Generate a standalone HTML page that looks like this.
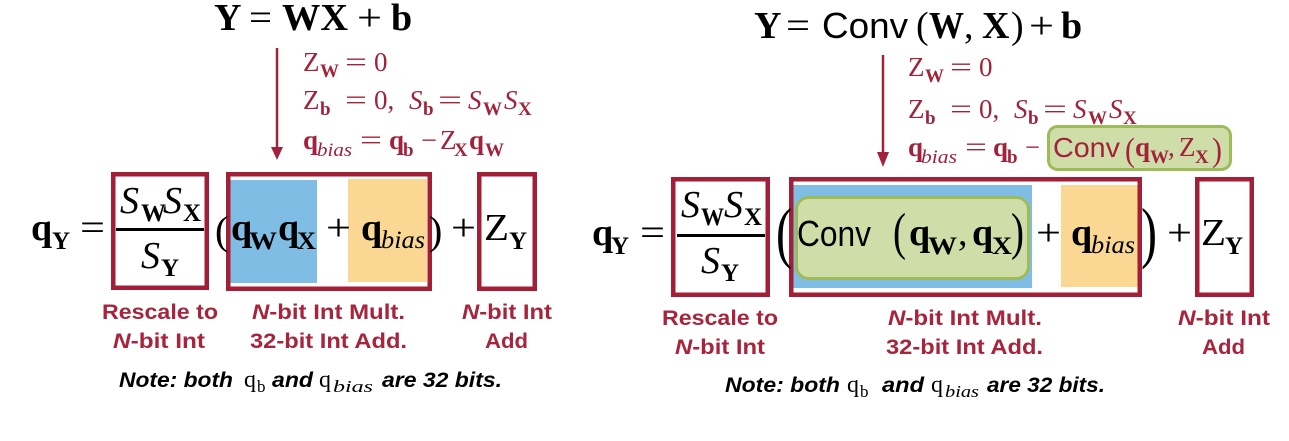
<!DOCTYPE html>
<html><head><meta charset="utf-8"><style>
html,body{margin:0;padding:0;background:#fff;}
svg{display:block}
.s{font-family:"Liberation Serif",serif}
.ss{font-family:"Liberation Sans",sans-serif}
.b{font-weight:bold}
.i{font-style:italic}
.lab{font-family:"Liberation Sans",sans-serif;font-weight:bold;font-size:21px;fill:#a7243c}
.note{font-family:"Liberation Sans",sans-serif;font-weight:bold;font-style:italic;font-size:21px;fill:#000}
</style></head><body>
<svg width="1289" height="441" viewBox="0 0 1289 441" xmlns="http://www.w3.org/2000/svg">
<rect x="0" y="0" width="1289" height="441" fill="#fff"/>

<!-- ============ LEFT PANEL ============ -->
<g class="s" font-size="38" fill="#000">
  <text x="214" y="30" class="b">Y</text>
  <text x="249" y="30" textLength="23" lengthAdjust="spacingAndGlyphs">=</text>
  <text x="282" y="30" class="b" textLength="66" lengthAdjust="spacingAndGlyphs">WX</text>
  <text x="357" y="30" textLength="25" lengthAdjust="spacingAndGlyphs">+</text>
  <text x="391" y="30" class="b">b</text>
</g>

<line x1="277" y1="48" x2="277" y2="150" stroke="#a3223b" stroke-width="2.5"/>
<polygon points="271,147 283,147 277,160" fill="#a3223b"/>

<g class="s" font-size="27" fill="#a3223b">
  <text x="303" y="71">Z</text>
  <text x="320" y="77" class="b" font-size="19">W</text>
  <text x="345" y="71" textLength="22" lengthAdjust="spacingAndGlyphs">=</text>
  <text x="374" y="71">0</text>

  <text x="303" y="109">Z</text>
  <text x="320" y="115" class="b" font-size="19">b</text>
  <text x="345" y="109" textLength="22" lengthAdjust="spacingAndGlyphs">=</text>
  <text x="374" y="109">0,</text>
  <text x="409" y="109" class="i">S</text>
  <text x="423" y="115" class="b" font-size="19">b</text>
  <text x="438" y="109" textLength="24" lengthAdjust="spacingAndGlyphs">=</text>
  <text x="468" y="109" class="i">S</text>
  <text x="483" y="115" class="b" font-size="19">W</text>
  <text x="504" y="109" class="i">S</text>
  <text x="518" y="115" class="b" font-size="19">X</text>

  <text x="303" y="149" class="b">q</text>
  <text x="317" y="156" class="i" font-size="19" textLength="35" lengthAdjust="spacingAndGlyphs">bias</text>
  <text x="360" y="149" textLength="22" lengthAdjust="spacingAndGlyphs">=</text>
  <text x="389" y="149" class="b">q</text>
  <text x="403" y="156" class="b" font-size="19">b</text>
  <text x="421" y="149" textLength="16" lengthAdjust="spacingAndGlyphs">−</text>
  <text x="440" y="149">Z</text>
  <text x="454" y="156" class="b" font-size="19">X</text>
  <text x="469" y="149" class="b">q</text>
  <text x="485" y="156" class="b" font-size="19">W</text>
</g>

<!-- fills -->
<rect x="230" y="180" width="87" height="103" fill="#7fbde5"/>
<rect x="348" y="179" width="79" height="103" fill="#fad894"/>

<!-- boxes -->
<g fill="none" stroke="#a21f37" stroke-width="4.5">
  <rect x="113.25" y="174.25" width="93.5" height="113.5"/>
  <rect x="228.25" y="174.25" width="201.5" height="114.5"/>
  <rect x="479.25" y="174.25" width="55.5" height="114.5"/>
</g>

<g class="s" font-size="38" fill="#000">
  <text x="31" y="240" class="b">q</text>
  <text x="52" y="249" class="b" font-size="25">Y</text>
  <text x="80" y="240" textLength="25" lengthAdjust="spacingAndGlyphs">=</text>

  <text x="120" y="213" class="i">S</text>
  <text x="141" y="221" class="b" font-size="25">W</text>
  <text x="163" y="213" class="i">S</text>
  <text x="183" y="221" class="b" font-size="25">X</text>
  <rect x="116" y="228" width="88" height="3" fill="#000"/>
  <text x="141" y="268" class="i">S</text>
  <text x="161" y="276" class="b" font-size="25">Y</text>

  <text x="215" y="244" font-size="40">(</text>
  <text x="231" y="240" class="b">q</text>
  <text x="249" y="249" class="b" font-size="25" textLength="28" lengthAdjust="spacingAndGlyphs">W</text>
  <text x="278" y="240" class="b">q</text>
  <text x="297" y="249" class="b" font-size="25" textLength="19" lengthAdjust="spacingAndGlyphs">X</text>
  <text x="326" y="240" textLength="25" lengthAdjust="spacingAndGlyphs">+</text>
  <text x="361" y="240" class="b">q</text>
  <text x="381" y="248" class="i" font-size="25" textLength="44" lengthAdjust="spacingAndGlyphs">bias</text>
  <text x="429" y="244" font-size="40">)</text>
  <text x="451" y="240" textLength="25" lengthAdjust="spacingAndGlyphs">+</text>
  <text x="484" y="240" textLength="25" lengthAdjust="spacingAndGlyphs">Z</text>
  <text x="509" y="249" class="b" font-size="25">Y</text>
</g>

<text class="lab" x="102" y="319" textLength="116" lengthAdjust="spacingAndGlyphs">Rescale to</text>
<text class="lab" x="113" y="348" textLength="92" lengthAdjust="spacingAndGlyphs"><tspan font-style="italic">N</tspan>-bit Int</text>
<text class="lab" x="252" y="319" textLength="153" lengthAdjust="spacingAndGlyphs"><tspan font-style="italic">N</tspan>-bit Int Mult.</text>
<text class="lab" x="250" y="348" textLength="157" lengthAdjust="spacingAndGlyphs">32-bit Int Add.</text>
<text class="lab" x="462" y="319" textLength="90" lengthAdjust="spacingAndGlyphs"><tspan font-style="italic">N</tspan>-bit Int</text>
<text class="lab" x="485" y="348" textLength="43" lengthAdjust="spacingAndGlyphs">Add</text>

<text class="note" x="119" y="387" textLength="114" lengthAdjust="spacingAndGlyphs">Note: both</text>
<text class="s" x="244" y="387" font-size="24">q</text>
<text class="s" x="257" y="392" font-size="17">b</text>
<text class="note" x="272" y="387" textLength="41" lengthAdjust="spacingAndGlyphs">and</text>
<text class="s" x="319" y="387" font-size="24">q</text>
<text class="s i" x="333" y="392" font-size="17" textLength="40" lengthAdjust="spacingAndGlyphs">bias</text>
<text class="note" x="382" y="387" textLength="120" lengthAdjust="spacingAndGlyphs">are 32 bits.</text>

<!-- ============ RIGHT PANEL ============ -->
<g class="s" font-size="38" fill="#000">
  <text x="754" y="38" class="b">Y</text>
  <text x="786" y="38" textLength="24" lengthAdjust="spacingAndGlyphs">=</text>
  <text x="822" y="38" class="ss" font-size="36" textLength="86" lengthAdjust="spacingAndGlyphs">Conv</text>
  <text x="916" y="38">(</text>
  <text x="929" y="38" class="b" textLength="35" lengthAdjust="spacingAndGlyphs">W</text>
  <text x="964" y="38">,</text>
  <text x="982" y="38" class="b">X</text>
  <text x="1011" y="38">)</text>
  <text x="1029" y="38" textLength="25" lengthAdjust="spacingAndGlyphs">+</text>
  <text x="1061" y="38" class="b">b</text>
</g>

<line x1="883" y1="55" x2="883" y2="155" stroke="#a3223b" stroke-width="2.5"/>
<polygon points="877,152 889,152 883,167" fill="#a3223b"/>

<rect x="1048.5" y="126.5" width="182" height="43" rx="9" fill="#cfdea9" stroke="#9dbb59" stroke-width="3"/>

<g class="s" font-size="27" fill="#a3223b">
  <text x="908" y="76">Z</text>
  <text x="925" y="82" class="b" font-size="19">W</text>
  <text x="950" y="76" textLength="22" lengthAdjust="spacingAndGlyphs">=</text>
  <text x="979" y="76">0</text>

  <text x="908" y="118">Z</text>
  <text x="925" y="124" class="b" font-size="19">b</text>
  <text x="950" y="118" textLength="22" lengthAdjust="spacingAndGlyphs">=</text>
  <text x="979" y="118">0,</text>
  <text x="1014" y="118" class="i">S</text>
  <text x="1028" y="124" class="b" font-size="19">b</text>
  <text x="1043" y="118" textLength="24" lengthAdjust="spacingAndGlyphs">=</text>
  <text x="1073" y="118" class="i">S</text>
  <text x="1088" y="124" class="b" font-size="19">W</text>
  <text x="1109" y="118" class="i">S</text>
  <text x="1123" y="124" class="b" font-size="19">X</text>

  <text x="908" y="156" class="b">q</text>
  <text x="921" y="163" class="i" font-size="19" textLength="36" lengthAdjust="spacingAndGlyphs">bias</text>
  <text x="965" y="156" textLength="22" lengthAdjust="spacingAndGlyphs">=</text>
  <text x="993" y="156" class="b">q</text>
  <text x="1007" y="163" class="b" font-size="19">b</text>
  <text x="1025" y="156" textLength="15" lengthAdjust="spacingAndGlyphs">−</text>
  <text x="1053" y="157" class="ss" font-size="28" textLength="67" lengthAdjust="spacingAndGlyphs">Conv</text>
  <text x="1125" y="161" font-size="34" textLength="10" lengthAdjust="spacingAndGlyphs">(</text>
  <text x="1135" y="156" class="b">q</text>
  <text x="1150" y="163" class="b" font-size="19">W</text>
  <text x="1168" y="156">,</text>
  <text x="1179" y="156">Z</text>
  <text x="1195" y="163" class="b" font-size="19">X</text>
  <text x="1212" y="161" font-size="34" textLength="10" lengthAdjust="spacingAndGlyphs">)</text>
</g>

<!-- fills -->
<rect x="793" y="185" width="239" height="103" fill="#7fbde5"/>
<rect x="1061" y="185" width="77" height="102" fill="#fad894"/>
<rect x="796.5" y="197.5" width="232" height="81" rx="12" fill="#cfdea9" stroke="#9dbb59" stroke-width="3"/>

<g fill="none" stroke="#a21f37" stroke-width="4.5">
  <rect x="673.25" y="179.25" width="94.5" height="115.5"/>
  <rect x="791.25" y="179.25" width="348.5" height="115.5"/>
  <rect x="1197.25" y="179.25" width="54.5" height="115.5"/>
</g>

<g class="s" font-size="38" fill="#000">
  <text x="592" y="245" class="b">q</text>
  <text x="611" y="254" class="b" font-size="25">Y</text>
  <text x="640" y="245" textLength="25" lengthAdjust="spacingAndGlyphs">=</text>

  <text x="681" y="217" class="i">S</text>
  <text x="701" y="225" class="b" font-size="25" textLength="23" lengthAdjust="spacingAndGlyphs">W</text>
  <text x="724" y="217" class="i">S</text>
  <text x="744" y="225" class="b" font-size="25">X</text>
  <rect x="677" y="234" width="88" height="3" fill="#000"/>
  <text x="701" y="273" class="i">S</text>
  <text x="721" y="281" class="b" font-size="25">Y</text>

  <text x="776" y="255" font-size="68" textLength="16" lengthAdjust="spacingAndGlyphs">(</text>
  <text x="797" y="246" class="ss" font-size="36" textLength="74" lengthAdjust="spacingAndGlyphs">Conv</text>
  <text x="893" y="249" font-size="52" textLength="13" lengthAdjust="spacingAndGlyphs">(</text>
  <text x="909" y="245" class="b">q</text>
  <text x="928" y="254" class="b" font-size="25" textLength="29" lengthAdjust="spacingAndGlyphs">W</text>
  <text x="958" y="245">,</text>
  <text x="972" y="245" class="b">q</text>
  <text x="992" y="254" class="b" font-size="25" textLength="20" lengthAdjust="spacingAndGlyphs">X</text>
  <text x="1011" y="249" font-size="52" textLength="13" lengthAdjust="spacingAndGlyphs">)</text>
  <text x="1036" y="245" textLength="25" lengthAdjust="spacingAndGlyphs">+</text>
  <text x="1071" y="245" class="b">q</text>
  <text x="1091" y="253" class="i" font-size="25" textLength="44" lengthAdjust="spacingAndGlyphs">bias</text>
  <text x="1141" y="255" font-size="68" textLength="16" lengthAdjust="spacingAndGlyphs">)</text>
  <text x="1167" y="245" textLength="25" lengthAdjust="spacingAndGlyphs">+</text>
  <text x="1201" y="245" textLength="25" lengthAdjust="spacingAndGlyphs">Z</text>
  <text x="1225" y="254" class="b" font-size="25">Y</text>
</g>

<text class="lab" x="662" y="325" textLength="116" lengthAdjust="spacingAndGlyphs">Rescale to</text>
<text class="lab" x="675" y="354" textLength="90" lengthAdjust="spacingAndGlyphs"><tspan font-style="italic">N</tspan>-bit Int</text>
<text class="lab" x="888" y="325" textLength="154" lengthAdjust="spacingAndGlyphs"><tspan font-style="italic">N</tspan>-bit Int Mult.</text>
<text class="lab" x="886" y="354" textLength="157" lengthAdjust="spacingAndGlyphs">32-bit Int Add.</text>
<text class="lab" x="1178" y="325" textLength="92" lengthAdjust="spacingAndGlyphs"><tspan font-style="italic">N</tspan>-bit Int</text>
<text class="lab" x="1202" y="354" textLength="43" lengthAdjust="spacingAndGlyphs">Add</text>

<text class="note" x="725" y="392" textLength="115" lengthAdjust="spacingAndGlyphs">Note: both</text>
<text class="s" x="847" y="392" font-size="24">q</text>
<text class="s" x="860" y="397" font-size="17">b</text>
<text class="note" x="882" y="392" textLength="42" lengthAdjust="spacingAndGlyphs">and</text>
<text class="s" x="931" y="392" font-size="24">q</text>
<text class="s i" x="945" y="397" font-size="17" textLength="34" lengthAdjust="spacingAndGlyphs">bias</text>
<text class="note" x="987" y="392" textLength="118" lengthAdjust="spacingAndGlyphs">are 32 bits.</text>
</svg>
</body></html>
